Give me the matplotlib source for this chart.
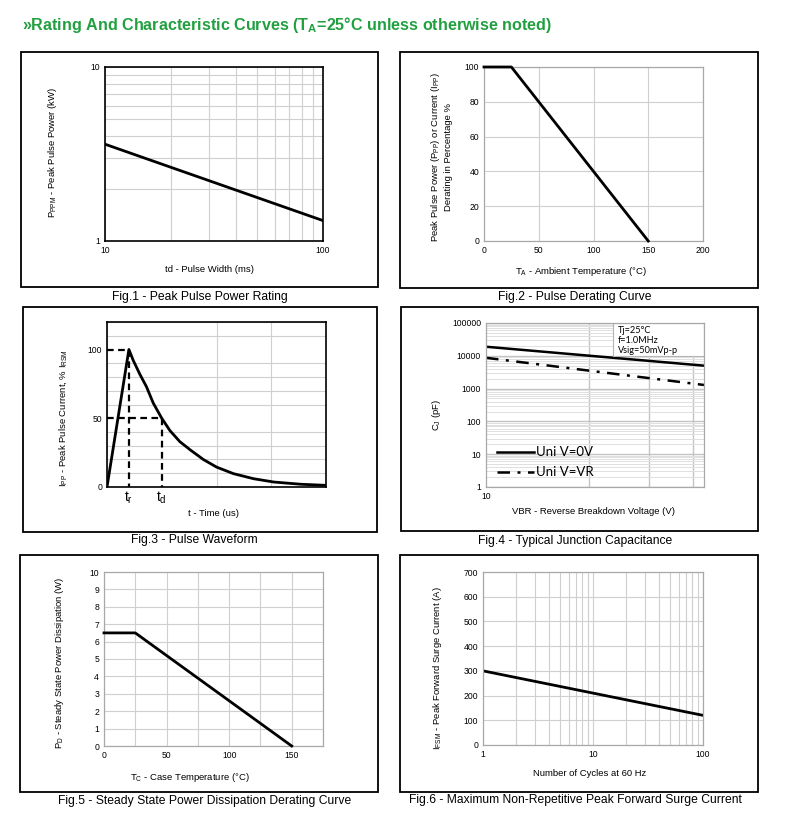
import numpy as np
import matplotlib
matplotlib.use("Agg")
import matplotlib.pyplot as plt
from matplotlib.patches import Rectangle

plt.rcParams['font.family'] = ['Liberation Sans', 'DejaVu Sans']
plt.rcParams['mathtext.fontset'] = 'custom'
plt.rcParams['mathtext.rm'] = 'Liberation Sans'
plt.rcParams['mathtext.it'] = 'Liberation Sans'

# ---- data ----
fig1_width = [10, 100]          # ms
fig1_power = [3.6, 1.31]        # kW

fig2_temp = [0, 25, 150]
fig2_pct = [100, 100, 0]

fig3_t = [0, 0.40, 0.48, 0.60, 0.72, 0.845, 1.0, 1.15, 1.33, 1.52, 1.76, 2.0, 2.31, 2.68, 3.05, 3.54, 4.0]
fig3_i = [0, 100, 92, 82, 73, 61, 50, 41, 33, 27, 20, 14.5, 9.7, 6, 3.6, 2, 1.2]
fig3_tr = 0.40
fig3_td = 1.0

fig4_vbr = [10, 1280]
fig4_cj_0v = [18900, 5000]
fig4_cj_vr = [8700, 1290]
fig4_vgrid = [100, 380, 1000]

fig5_temp = [0, 25, 150]
fig5_pd = [6.5, 6.5, 0]

fig6_cycles = [1, 10, 100]
fig6_ifsm = [300, 210, 120]

W, H = 790, 831
fig = plt.figure(figsize=(W / 100, H / 100), dpi=100)
fig.patch.set_facecolor('white')

GRID = '#cfcfcf'
SPINE_GRAY = '#a8a8a8'
TICK_FS = 6.2
LABEL_FS = 6.8
CAP_FS = 8.7


def fx(x):
    return x / W


def fy(y):
    return 1 - y / H


def make_axes(l, t, r, b, spine_color, spine_lw):
    ax = fig.add_axes([fx(l), fy(b), (r - l) / W, (b - t) / H])
    for s in ax.spines.values():
        s.set_color(spine_color)
        s.set_linewidth(spine_lw)
        s.set_zorder(5)
    ax.tick_params(which='both', length=0, labelsize=TICK_FS, pad=3.5)
    ax.set_axisbelow(True)
    return ax


def box(l, t, r, b):
    fig.patches.append(Rectangle((fx(l), fy(b)), (r - l) / W, (b - t) / H,
                                 transform=fig.transFigure, fill=False,
                                 edgecolor='black', linewidth=1.3))


def xlab(x, y, s):
    fig.text(fx(x), fy(y), s, ha='center', va='center', fontsize=LABEL_FS)


def ylab(x, y, s):
    fig.text(fx(x), fy(y), s, ha='center', va='center', rotation=90,
             fontsize=LABEL_FS, multialignment='center')


def caption(x, y, s):
    fig.text(fx(x), fy(y), s, ha='center', va='center', fontsize=CAP_FS)


# title
fig.text(fx(22), fy(25), '»Rating And Characteristic Curves (T$_\\mathregular{A}$=25°C unless otherwise noted)',
         ha='left', va='center', fontsize=11.6, fontweight='bold', color='#22a040')

# ---------- Fig.1 ----------
box(21, 52, 378, 287)
ax = make_axes(105, 67, 323, 241, 'black', 1.2)
ax.set_xscale('log')
ax.set_yscale('log')
ax.set_xlim(10, 100)
ax.set_ylim(1, 10)
ax.set_xticks([10, 100], ['10', '100'])
ax.set_yticks([1, 10], ['1', '10'])
ax.set_xticks([20, 30, 40, 50, 60, 70, 80, 90], minor=True)
ax.set_yticks([2, 3, 4, 5, 6, 7, 8, 9], minor=True)
ax.xaxis.set_minor_formatter(plt.NullFormatter())
ax.yaxis.set_minor_formatter(plt.NullFormatter())
ax.grid(True, which='both', color=GRID, linewidth=0.8)
ax.plot(fig1_width, fig1_power, color='black', linewidth=2)
xlab(209, 269, 'td - Pulse Width (ms)')
ylab(53, 152, 'P$_{\\mathregular{PPM}}$ - Peak Pulse Power (kW)')
caption(200, 297, 'Fig.1 - Peak Pulse Power Rating')

# ---------- Fig.2 ----------
box(400, 52, 758, 288)
ax = make_axes(484, 67, 703, 241, SPINE_GRAY, 0.9)
ax.set_xlim(0, 200)
ax.set_ylim(0, 100)
ax.set_xticks([0, 50, 100, 150, 200])
ax.set_yticks([0, 20, 40, 60, 80, 100])
ax.grid(True, color=GRID, linewidth=0.8)
ax.plot(fig2_temp, fig2_pct, color='black', linewidth=2, clip_on=False, zorder=6)
xlab(581, 272, 'T$_\\mathregular{A}$ - Ambient Temperature (°C)')
ylab(441, 157, 'Peak Pulse Power (P$_{\\mathregular{PP}}$) or Current (I$_{\\mathregular{PP}}$)\nDerating in Percentage %')
caption(575, 297, 'Fig.2 - Pulse Derating Curve')

# ---------- Fig.3 ----------
box(23, 307, 377, 532)
ax = make_axes(107, 322, 326, 487, 'black', 1.2)
ax.set_xlim(0, 4)
ax.set_ylim(0, 120)
ax.set_yticks(np.arange(0, 121, 10), minor=True)
ax.set_yticks([0, 50, 100])
ax.set_xticks([0, 1, 2, 3, 4], minor=True)
ax.set_xticks([fig3_tr, fig3_td], ['t$_\\mathregular{r}$', 't$_\\mathregular{d}$'])
ax.tick_params(axis='x', labelsize=10, pad=2)
ax.yaxis.set_minor_formatter(plt.NullFormatter())
ax.xaxis.set_minor_formatter(plt.NullFormatter())
ax.grid(True, which='minor', color=GRID, linewidth=0.8)
ax.grid(False, which='major')
ax.plot(fig3_t, fig3_i, color='black', linewidth=2, zorder=4)
ax.plot([0, fig3_tr, fig3_tr], [100, 100, 0], color='black', linewidth=1.6,
        linestyle=(0, (3, 2)), zorder=4)
ax.plot([0, fig3_td, fig3_td], [50, 50, 0], color='black', linewidth=1.6,
        linestyle=(0, (3, 2)), zorder=4)
xlab(213, 513, 't - Time (us)')
ylab(63, 418, 'I$_{\\mathregular{PP}}$ - Peak Pulse Current, % I$_{\\mathregular{RSM}}$')
caption(194, 540, 'Fig.3 - Pulse Waveform')

# ---------- Fig.4 ----------
box(401, 307, 758, 531)
ax = make_axes(486, 323, 704, 487, SPINE_GRAY, 0.9)
ax.set_xscale('log')
ax.set_yscale('log')
ax.set_xlim(fig4_vbr[0], fig4_vbr[-1])
ax.set_ylim(1, 100000)
ax.set_xticks([10], ['10'])
ax.set_xticks(fig4_vgrid, minor=True)
ax.xaxis.set_minor_formatter(plt.NullFormatter())
ax.set_yticks([1, 10, 100, 1000, 10000, 100000], ['1', '10', '100', '1000', '10000', '100000'])
ax.set_yticks([m * 10 ** k for k in range(5) for m in range(2, 10)], minor=True)
ax.yaxis.set_minor_formatter(plt.NullFormatter())
ax.grid(True, axis='y', which='major', color='#c4c4c4', linewidth=1.0)
ax.grid(True, axis='y', which='minor', color='#e0e0e0', linewidth=0.7)
ax.grid(True, axis='x', which='minor', color='#c4c4c4', linewidth=1.0)
ax.plot(fig4_vbr, fig4_cj_0v, color='black', linewidth=1.8, label='Uni V=0V')
ax.plot(fig4_vbr, fig4_cj_vr, color='black', linewidth=1.8,
        linestyle=(0, (5, 3, 1.2, 3)), label='Uni V=VR')
leg = ax.legend(loc='lower left', bbox_to_anchor=(-0.005, -0.02), frameon=False,
                prop={'family': ['Lato', 'DejaVu Sans'], 'size': 9.5},
                handlelength=2.8, handletextpad=0.15, labelspacing=0.6)
ax.add_patch(Rectangle((0.583, 0.8), 0.415, 0.2, transform=ax.transAxes,
                       facecolor='white', edgecolor='#b5b5b5', linewidth=0.8, zorder=3))
for i, s in enumerate(['Tj=25°C', 'f=1.0MHz', 'Vsig=50mVp-p']):
    ax.text(0.605, 0.955 - i * 0.06, s, transform=ax.transAxes, fontsize=6.6,
            family=['Lato', 'DejaVu Sans'], ha='left', va='center', zorder=4)
xlab(593, 511, 'VBR - Reverse Breakdown Voltage (V)')
ylab(437, 415, 'C$_\\mathregular{J}$ (pF)')
caption(575, 541, 'Fig.4 - Typical Junction Capacitance')

# ---------- Fig.5 ----------
box(20, 555, 378, 792)
ax = make_axes(104, 572, 323, 746, SPINE_GRAY, 0.9)
ax.set_xlim(0, 175)
ax.set_ylim(0, 10)
ax.set_xticks([0, 50, 100, 150])
ax.set_xticks(np.arange(0, 176, 25), minor=True)
ax.set_yticks(np.arange(0, 11, 1))
ax.grid(True, which='both', color=GRID, linewidth=0.8)
ax.plot(fig5_temp, fig5_pd, color='black', linewidth=2, clip_on=False, zorder=6)
xlab(190, 777, 'T$_\\mathregular{C}$ - Case Temperature (°C)')
ylab(59, 663, 'P$_\\mathregular{D}$ - Steady State Power Dissipation (W)')
caption(205, 801, 'Fig.5 - Steady State Power Dissipation Derating Curve')

# ---------- Fig.6 ----------
box(400, 555, 758, 792)
ax = make_axes(483, 572, 703, 745, SPINE_GRAY, 0.9)
ax.set_xscale('log')
ax.set_xlim(1, 100)
ax.set_ylim(0, 700)
ax.set_xticks([1, 10, 100], ['1', '10', '100'])
ax.set_xticks([m * 10 ** k for k in range(2) for m in range(2, 10)], minor=True)
ax.xaxis.set_minor_formatter(plt.NullFormatter())
ax.set_yticks(np.arange(0, 701, 100))
ax.grid(True, which='both', color=GRID, linewidth=0.8)
ax.plot(fig6_cycles, fig6_ifsm, color='black', linewidth=2)
xlab(590, 773, 'Number of Cycles at 60 Hz')
ylab(438, 668, 'I$_{\\mathregular{FSM}}$ - Peak Forward Surge Current (A)')
caption(575, 800, 'Fig.6 - Maximum Non-Repetitive Peak Forward Surge Current')

fig.savefig('out.png', dpi=100)
